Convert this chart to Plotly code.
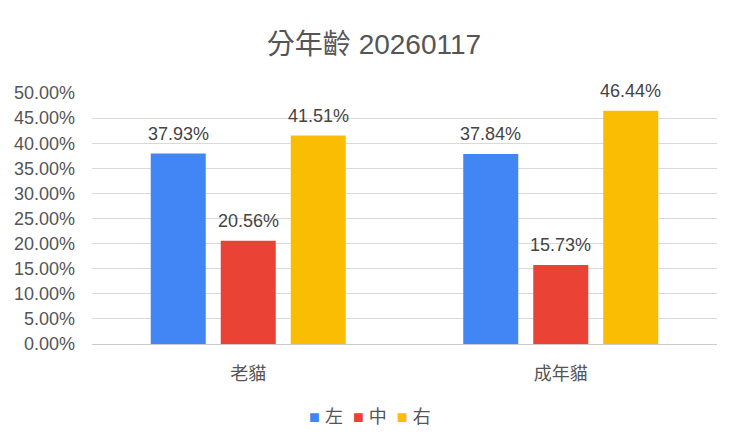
import plotly.graph_objects as go

# Chart data
categories = ["老貓", "成年貓"]
series_names = ["左", "中", "右"]
left_vals = [37.93, 37.84]
mid_vals = [20.56, 15.73]
right_vals = [41.51, 46.44]
tick_vals = [0, 5, 10, 15, 20, 25, 30, 35, 40, 45, 50]
tick_text = [f"{v:.2f}%" for v in tick_vals]

colors = ["#4285F4", "#EA4335", "#FBBC04"]
font_family = "Liberation Sans, Arial, Noto Sans CJK TC, sans-serif"
text_color = "#555555"

all_series = [left_vals, mid_vals, right_vals]

fig = go.Figure()
for name, vals, color in zip(series_names, all_series, colors):
    fig.add_trace(go.Bar(
        x=categories, y=vals, name=name,
        marker=dict(color=color, line=dict(width=0)),
        hoverinfo="x+y+name",
    ))

# value labels above bars (offset per series within the group)
for i, vals in enumerate(all_series):
    for cat, v in zip(categories, vals):
        fig.add_annotation(
            x=cat, y=v, xref="x", yref="y",
            text=f"{v:.2f}%", showarrow=False,
            xshift=(i - 1) * 70, yshift=8, yanchor="bottom",
            font=dict(size=18, color="#444444", family=font_family),
        )

# legend drawn as one line of coloured squares + names, centred on the page
legend_text = "&nbsp;&nbsp;".join(
    f"<span style='color:{c}'>■</span> {n}" for n, c in zip(series_names, colors)
)
fig.add_annotation(
    x=0.445, y=-0.291, xref="paper", yref="paper",
    text=legend_text, showarrow=False, yanchor="middle", xanchor="center",
    font=dict(size=18, color=text_color, family=font_family),
)

fig.update_layout(
    width=732, height=434,
    margin=dict(l=84, r=23, t=85, b=98),
    paper_bgcolor="white",
    plot_bgcolor="white",
    font=dict(family=font_family, color=text_color),
    title=dict(text="分年齡 20260117", x=0.5, xanchor="center",
               y=0.917, yanchor="middle",
               font=dict(size=28, color=text_color, family=font_family)),
    barmode="group",
    bargap=0.328,
    bargroupgap=0.214,
    showlegend=False,
    xaxis=dict(showgrid=False, showline=True, linecolor="#cccccc", linewidth=1,
               tickfont=dict(size=18, color=text_color, family=font_family),
               ticks="", ticklabelstandoff=13, automargin=False),
    yaxis=dict(range=[0, 50], tickvals=tick_vals, ticktext=tick_text,
               showgrid=True, gridcolor="#d9d9d9", gridwidth=1,
               zeroline=False, showline=False, ticks="",
               tickfont=dict(size=18, color=text_color, family=font_family),
               ticklabelstandoff=16, automargin=False),
)

fig.write_html("out.html")
